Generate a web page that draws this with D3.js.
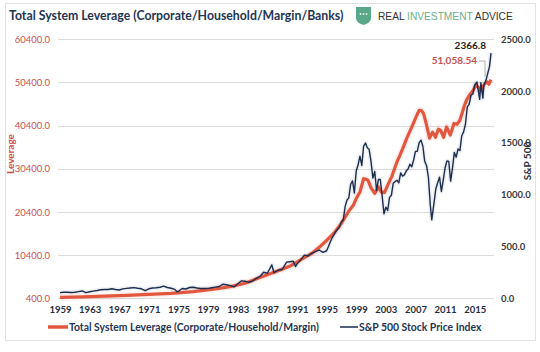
<!DOCTYPE html>
<html>
<head>
<meta charset="utf-8">
<script src="https://cdn.jsdelivr.net/npm/d3@7"></script>
<style>
  body { margin: 0; background: #fff; }
  svg { display: block; font-family: Lato, "Open Sans", sans-serif; }
</style>
</head>
<body>
<div id="chart"></div>
<script>
// ---- data ----
const levYears = [1959, 1962, 1965, 1968, 1971, 1974, 1977, 1980, 1982, 1984, 1986, 1988, 1990, 1992, 1993, 1994, 1995, 1996, 1997, 1998, 1998.6, 1999, 1999.5, 2000, 2000.3, 2000.6, 2001, 2001.5, 2002, 2002.4, 2002.8, 2003.3, 2003.8, 2004.5, 2004.9, 2005.4, 2005.8, 2006.3, 2006.7, 2007.1, 2007.5, 2007.8, 2008.1, 2008.5, 2008.9, 2009.3, 2009.7, 2010.1, 2010.4, 2010.8, 2011.2, 2011.7, 2012.2, 2012.6, 2013, 2013.3, 2013.6, 2013.9, 2014.3, 2014.8, 2015.2, 2015.5, 2015.8, 2016.1, 2016.4, 2016.7, 2016.9, 2017.2];
const levValues = [600, 750, 900, 1100, 1300, 1550, 1950, 2600, 3100, 3900, 5200, 6500, 7800, 9800, 10800, 12200, 13800, 15500, 17800, 20600, 21950, 23500, 25030, 28100, 28000, 27700, 26000, 24700, 26190, 25000, 24900, 26800, 28600, 31980, 33530, 35600, 37400, 39300, 40880, 42500, 43960, 43900, 43200, 40500, 37500, 38900, 37700, 39600, 39300, 37700, 40100, 38200, 40900, 40700, 41650, 43300, 45000, 46300, 47500, 48600, 49900, 49200, 48500, 49500, 50200, 50500, 50000, 51058.54];

const spYears = [1959, 1959.5, 1960, 1960.5, 1961, 1961.5, 1962, 1962.5, 1963, 1963.5, 1964, 1964.5, 1965, 1965.5, 1966, 1966.5, 1967, 1967.5, 1968, 1968.5, 1969, 1969.5, 1970, 1970.5, 1971, 1971.5, 1972, 1972.5, 1973, 1973.5, 1974, 1974.5, 1974.8, 1975, 1975.5, 1976, 1976.5, 1977, 1977.5, 1978, 1978.5, 1979, 1979.5, 1980, 1980.5, 1981, 1981.5, 1982, 1982.5, 1983, 1983.5, 1984, 1984.5, 1985, 1985.5, 1986, 1986.5, 1987, 1987.6, 1987.9, 1988.5, 1989, 1989.6, 1990, 1990.5, 1990.8, 1991, 1991.5, 1992, 1992.5, 1993, 1993.5, 1994, 1994.5, 1995,
  1995.25, 1995.5, 1995.75, 1996, 1996.25, 1996.5, 1996.75, 1997, 1997.25, 1997.5, 1997.75, 1998, 1998.25, 1998.5, 1998.75, 1999, 1999.25, 1999.5, 1999.75, 2000, 2000.25, 2000.5, 2000.75, 2001, 2001.25, 2001.5, 2001.75, 2002, 2002.25, 2002.5, 2002.75, 2003, 2003.25, 2003.5, 2003.75, 2004, 2004.25, 2004.5, 2004.75, 2005, 2005.25, 2005.5, 2005.75, 2006, 2006.25, 2006.5, 2006.75, 2007, 2007.25, 2007.5, 2007.75, 2008, 2008.25, 2008.5, 2008.75, 2009, 2009.2, 2009.5, 2009.75, 2010, 2010.25, 2010.5, 2010.75, 2011, 2011.25, 2011.5, 2011.75, 2012, 2012.25, 2012.5, 2012.75, 2013, 2013.25, 2013.5, 2013.75, 2014, 2014.25, 2014.5, 2014.75, 2015, 2015.3, 2015.67, 2015.83, 2016.1, 2016.25, 2016.5, 2016.75, 2017, 2017.2];
const spValues = [55, 59, 58, 56, 58, 65, 71, 55, 63, 69, 75, 82, 85, 85, 92, 85, 80, 91, 96, 100, 103, 97, 92, 73, 92, 99, 102, 107, 118, 104, 97, 86, 63, 68, 95, 90, 104, 107, 100, 95, 95, 96, 102, 108, 114, 136, 131, 122, 110, 141, 168, 165, 153, 167, 192, 211, 251, 242, 322, 247, 273, 278, 349, 353, 358, 306, 330, 371, 417, 408, 436, 450, 466, 444, 459,
  500, 545, 584, 615, 645, 670, 687, 740, 757, 885, 947, 970, 1101, 1133, 1017, 1229, 1286, 1372, 1282, 1469, 1498, 1454, 1436, 1320, 1160, 1224, 1040, 1148, 1147, 989, 815, 880, 848, 974, 995, 1111, 1126, 1140, 1114, 1211, 1180, 1191, 1228, 1248, 1294, 1270, 1335, 1418, 1420, 1503, 1527, 1468, 1322, 1280, 1166, 903, 757, 919, 1057, 1115, 1169, 1031, 1141, 1258, 1326, 1321, 1131, 1258, 1408, 1362, 1441, 1426, 1569, 1606, 1682, 1848, 1872, 1960, 1972, 2059, 2087, 1920, 2080, 1932, 2060, 2099, 2168, 2239, 2366.8];

const xTickYears = [1959, 1963, 1967, 1971, 1975, 1979, 1983, 1987, 1991, 1995, 1999, 2003, 2007, 2011, 2015];
const levTicks = [400, 10400, 20400, 30400, 40400, 50400, 60400];
const spTicks = [0, 500, 1000, 1500, 2000, 2500];

const red = "#e4573f", redText = "#c9504c", navy = "#1c2d4f", titleColor = "#1f3554";

const width = 540, height = 352;

const svg = d3.select("#chart").append("svg")
    .attr("width", width)
    .attr("height", height);

// frame
svg.append("rect")
    .attr("x", 5.5).attr("y", 3.5)
    .attr("width", 530).attr("height", 337)
    .attr("fill", "#fff")
    .attr("stroke", "#e3e3e3");

const x = d3.scaleLinear().domain([1959, 2017.2]).range([60, 491]);
const yL = d3.scaleLinear().domain([400, 60400]).range([298.3, 39.3]);
const yR = d3.scaleLinear().domain([0, 2500]).range([298.3, 39.3]);

// grid
svg.append("g").selectAll("line")
    .data(levTicks)
    .enter().append("line")
    .attr("x1", 58).attr("x2", 494)
    .attr("y1", d => Math.round(yL(d)) + 0.5)
    .attr("y2", d => Math.round(yL(d)) + 0.5)
    .attr("stroke", "#dcdcdc");

// left axis
const leftAxis = svg.append("g")
    .attr("transform", "translate(50,0)")
    .call(d3.axisLeft(yL).tickValues(levTicks).tickFormat(d3.format(".1f")).tickSize(0).tickPadding(0));
leftAxis.select(".domain").remove();
leftAxis.selectAll("text")
    .attr("fill", redText)
    .style("font-size", "9.5px")
    .style("font-family", "Lato");

// right axis
const rightAxis = svg.append("g")
    .attr("transform", "translate(501,0)")
    .call(d3.axisRight(yR).tickValues(spTicks).tickFormat(d3.format(".1f")).tickSize(0).tickPadding(0));
rightAxis.select(".domain").remove();
rightAxis.selectAll("text")
    .attr("fill", "#3a3a3a")
    .style("font-size", "9.5px")
    .style("font-weight", "bold")
    .style("font-family", "Lato");

// bottom axis
const bottomAxis = svg.append("g")
    .attr("transform", "translate(0,304)")
    .call(d3.axisBottom(x).tickValues(xTickYears).tickFormat(d3.format("d")).tickSize(0).tickPadding(2));
bottomAxis.select(".domain").remove();
bottomAxis.selectAll("text")
    .attr("fill", "#1f2d3d")
    .style("font-size", "9.5px")
    .style("font-weight", "bold")
    .style("font-family", "Lato");

// axis titles
svg.append("text")
    .attr("transform", "translate(14,154) rotate(-90)")
    .attr("text-anchor", "middle")
    .attr("fill", redText)
    .style("font-size", "10px")
    .style("font-weight", "bold")
    .text("Leverage");

svg.append("text")
    .attr("transform", "translate(531,161) rotate(-90)")
    .attr("text-anchor", "middle")
    .attr("fill", "#2a2f3a")
    .style("font-size", "10px")
    .style("font-weight", "bold")
    .text("S&P 500");

// lines
const levData = levYears.map((yr, i) => ({ yr, v: levValues[i] }));
const spData = spYears.map((yr, i) => ({ yr, v: spValues[i] }));

const levLine = d3.line().x(d => x(d.yr)).y(d => yL(d.v));
const spLine = d3.line().x(d => x(d.yr)).y(d => yR(d.v));

svg.append("path").datum(levData)
    .attr("d", levLine).attr("fill", "none")
    .attr("stroke", red).attr("stroke-opacity", 0.08)
    .attr("stroke-width", 7).attr("stroke-linejoin", "round");
svg.append("path").datum(spData)
    .attr("d", spLine).attr("fill", "none")
    .attr("stroke", navy).attr("stroke-opacity", 0.07)
    .attr("stroke-width", 4.5).attr("stroke-linejoin", "round");

svg.append("path").datum(levData)
    .attr("d", levLine).attr("fill", "none")
    .attr("stroke", red).attr("stroke-width", 3.2)
    .attr("stroke-linejoin", "round");

svg.append("path").datum(spData)
    .attr("d", spLine).attr("fill", "none")
    .attr("stroke", navy).attr("stroke-width", 1.4)
    .attr("stroke-linejoin", "round");

// end-value labels
const lastSp = spData[spData.length - 1];
const lastLev = levData[levData.length - 1];

svg.append("text")
    .attr("x", x(lastSp.yr) - 5).attr("y", 49)
    .attr("text-anchor", "end")
    .attr("fill", "#222")
    .style("font-size", "10px")
    .style("font-weight", "bold")
    .text(d3.format(".1f")(lastSp.v));

svg.append("text")
    .attr("x", x(lastLev.yr) - 14).attr("y", 64)
    .attr("text-anchor", "end")
    .attr("fill", redText)
    .style("font-size", "10px")
    .style("font-weight", "bold")
    .text(d3.format(",.2f")(lastLev.v));

svg.append("path")
    .attr("d", `M${x(lastLev.yr) - 12},${61} H${x(lastLev.yr) - 6} V${yL(lastLev.v) - 3}`)
    .attr("fill", "none")
    .attr("stroke", "#9a9a9a")
    .attr("stroke-width", 0.8);

// title
svg.append("text")
    .attr("x", 9).attr("y", 20)
    .attr("fill", titleColor)
    .style("font-size", "12.3px")
    .style("font-weight", "bold")
    .text("Total System Leverage (Corporate/Household/Margin/Banks)");

// logo
const logo = svg.append("g").attr("transform", "translate(356,7)");
logo.append("path")
    .attr("d", "M0,0 H15 V11 Q15,16 7.5,18 Q0,16 0,11 Z")
    .attr("fill", "#5aa88a");
logo.selectAll("circle")
    .data([4.5, 7.5, 10.5])
    .enter().append("circle")
    .attr("cx", d => d).attr("cy", 7).attr("r", 0.9)
    .attr("fill", "#e8f3ee");

const logoText = svg.append("text")
    .attr("x", 378).attr("y", 20)
    .style("font-family", "'Liberation Sans', Arial, sans-serif")
    .style("font-size", "10.2px")
    .attr("fill", "#333");
logoText.append("tspan").text("REAL ");
logoText.append("tspan").attr("fill", "#69b08c").text("INVESTMENT");
logoText.append("tspan").text(" ADVICE");

// legend
const legendItems = [
    { label: "Total System Leverage (Corporate/Household/Margin)", color: red, w: 3.5, x0: 48, x1: 68 },
    { label: "S&P 500 Stock Price Index", color: navy, w: 1.5, x0: 340, x1: 358 }
];
const legend = svg.append("g").selectAll("g")
    .data(legendItems)
    .enter().append("g");
legend.append("line")
    .attr("x1", d => d.x0).attr("x2", d => d.x1)
    .attr("y1", 327).attr("y2", 327)
    .attr("stroke", d => d.color)
    .attr("stroke-width", d => d.w);
legend.append("text")
    .attr("x", d => d.x1 + 1).attr("y", 331)
    .attr("fill", titleColor)
    .style("font-size", "10.4px")
    .style("font-weight", "bold")
    .text(d => d.label);
</script>
</body>
</html>
